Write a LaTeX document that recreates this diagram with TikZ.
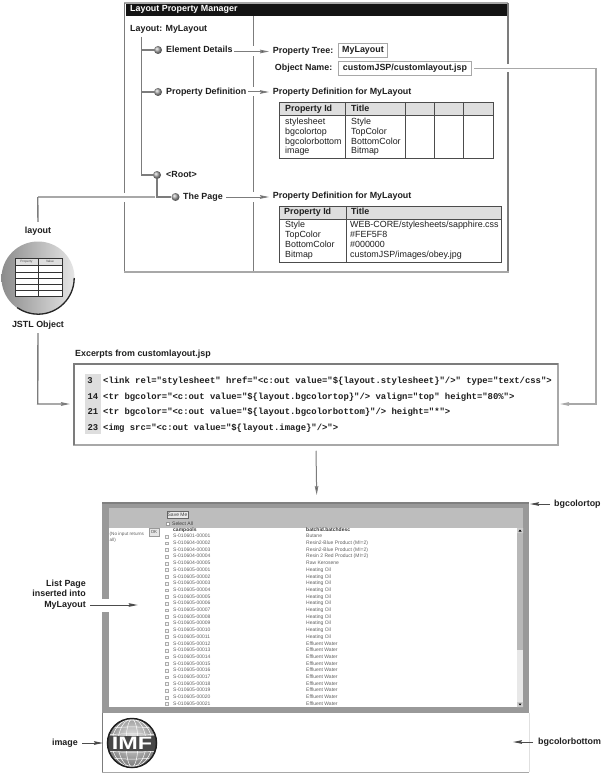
\documentclass[tikz,border=0pt]{standalone}
\usepackage{fontspec}
\setmainfont{Liberation Sans}
\newfontfamily\monof{Liberation Mono}
\usetikzlibrary{arrows.meta,calc}
\definecolor{ink}{HTML}{1E1E1E}
\definecolor{rule}{HTML}{7C7C7C}
\definecolor{softrule}{HTML}{A8A8A8}
\definecolor{shotdark}{HTML}{999999}
\definecolor{shotlight}{HTML}{BDBDBD}
\definecolor{cellhead}{HTML}{DEDEDE}
\tikzset{
  x=1pt,y=-1pt,
  lab/.style={inner sep=0pt,font=\fontsize{8.9}{10.5}\selectfont\bfseries,text=ink,text height=6.2pt,text depth=1.8pt},
  cell/.style={inner sep=0pt,font=\fontsize{8.9}{10}\selectfont,text=ink,anchor=west,text height=6.2pt,text depth=1.8pt},
  codeline/.style={inner sep=0pt,anchor=west,font=\monof\bfseries\fontsize{8.9}{10}\selectfont,text=ink,text height=6pt,text depth=1.5pt},
  boxed/.style={draw=softrule,line width=1.4pt,fill=white,inner sep=0pt,minimum height=14.5pt,font=\fontsize{8.9}{10}\selectfont\bfseries,text=ink},
  ballnode/.style={circle,inner sep=0pt,minimum size=8pt,ball color=black!35,shading=ball},
  treeline/.style={draw=rule,line width=1.5pt},
  link/.style={draw=rule,line width=1pt},
  softlink/.style={draw=softrule,line width=1.4pt},
  tip/.style={-{Stealth[length=9pt,width=3.6pt,inset=1pt,fill=ink]}},
  halo/.style={preaction={draw=white,line width=#1,arrows=-}},
  shot/.style={inner sep=0pt,anchor=west,font=\fontsize{5}{6}\selectfont,text=black!62,text height=3.6pt,text depth=1pt},
  shotb/.style={shot,font=\fontsize{5}{6}\selectfont\bfseries,text=black!80},
}
\begin{document}
\begin{tikzpicture}
\useasboundingbox (0,0) rectangle (600,773);
\fill[white] (0,0) rectangle (600,773);

% ---- Layout Property Manager window
\draw[softrule,line width=1.2pt] (124.3,3) -- (508,3);
\draw[rule,line width=1.3pt] (124.3,3) -- (124.3,272) (508,3) -- (508,272) (253.3,16) -- (253.3,271);
\draw[softrule,line width=1.5pt] (124,272) -- (508.5,272);
\fill[black!92] (126,4.5) rectangle (507.4,16);
\node[lab,anchor=west,text=white] (title) at (130,9.8) {Layout Property Manager};

\node[lab,anchor=west] (layoutname) at (130,29) {Layout: MyLayout};
\coordinate (treetop) at (141.7,37);
\node[ballnode] (b1) at (158,50) {};
\node[ballnode] (b2) at (158,92) {};
\node[ballnode] (b3) at (157,175) {};
\node[ballnode] (b4) at (175.5,197) {};
\draw[treeline] (treetop) |- (b3.west);
\draw[treeline] (treetop|-b1) -- (b1.west);
\draw[treeline] (treetop|-b2) -- (b2.west);
\draw[treeline] (b3.south) |- (b4.west);

\node[lab,anchor=west] (elem) at (166,50) {Element Details};
\node[lab,anchor=west] (propdef) at (166,92) {Property Definition};
\node[lab,anchor=west] (rootn) at (166,175) {<Root>};
\node[lab,anchor=west] (page) at (183,197) {The Page};

\node[lab,anchor=west] (ptree) at (272.7,51) {Property Tree:};
\node[lab,anchor=east] (oname) at (332.5,68) {Object Name:};
\node[boxed,minimum width=49pt] (treebox) at (363,50.5) {MyLayout};
\node[boxed,minimum width=133pt] (objbox) at (405,68.5) {customJSP/customlayout.jsp};
\node[lab,anchor=west] (def1) at (272.7,92) {Property Definition for MyLayout};
\node[lab,anchor=west] (def2) at (272.7,196) {Property Definition for MyLayout};

% ---- first property table
\fill[cellhead] (279,102) rectangle (493,115);
\draw[black!70,line width=.9pt] (279,102) rectangle (493,158) (279,115) -- (493,115)
  (345.7,102) -- (345.7,158) (405,102) -- (405,158) (434,102) -- (434,158) (463,102) -- (463,158);
\node[lab,anchor=west] (t1a) at (285,109) {Property Id};
\node[lab,anchor=west] (t1b) at (351,109) {Title};
\foreach \y/\a/\b in {122/stylesheet/Style,132/bgcolortop/TopColor,142/bgcolorbottom/BottomColor,151/image/Bitmap}{
  \node[cell] at (285,\y) {\a};
  \node[cell] at (351,\y) {\b};
}

% ---- second property table
\fill[cellhead] (279,206) rectangle (501.5,219);
\draw[black!70,line width=.9pt] (279,206) rectangle (501.5,262) (279,219) -- (501.5,219) (346,206) -- (346,262);
\node[lab,anchor=west] (t2a) at (284,212) {Property Id};
\node[lab,anchor=west] (t2b) at (351,212) {Title};
\foreach \y/\a/\b in {225/Style/WEB-CORE\slash stylesheets\slash sapphire.css,235/TopColor/\#FEF5F8,245/BottomColor/\#000000,255/Bitmap/customJSP\slash images\slash obey.jpg}{
  \node[cell] at (285,\y) {\a};
  \node[cell] at (350,\y) {\b};
}

% ---- JSTL object
\node[lab,anchor=center] (layoutlab) at (38,231) {layout};
\node[circle,inner sep=0pt,minimum size=73pt,left color=black!45,middle color=black!20,right color=black!10] (jstl) at (38,278) {};
\draw[black!85,line width=1.3pt] (74.2,278) ++(0,0) arc[start angle=0,end angle=125,radius=36.2];
\fill[white] (15,258) rectangle (62,296);
\fill[cellhead] (15,258) rectangle (62,265);
\draw[black!80,line width=.7pt] (15,258) rectangle (62,296) (38.3,258) -- (38.3,296)
  (15,265) -- (62,265) (15,272) -- (62,272) (15,278) -- (62,278) (15,284) -- (62,284) (15,290) -- (62,290);
\node[inner sep=0pt,font=\fontsize{3.2}{4}\selectfont,text=black!70] (mp) at (26.5,261.5) {Property};
\node[inner sep=0pt,font=\fontsize{3.2}{4}\selectfont,text=black!70] (mv) at (50,261.5) {Value};
\node[lab,anchor=center] (jstllab) at (38,325) {JSTL Object};

% ---- code excerpt
\node[lab,anchor=west] (excerpt) at (75,354) {Excerpts from customlayout.jsp};
\node[draw=softrule,line width=1.5pt,fill=white,inner sep=0pt,minimum width=484pt,minimum height=81pt] (code) at (316,404.5) {};
\draw[rule,line width=1.2pt] (74,445) -- (74,364) -- (558,364);
\fill[black!13] (85,374) rectangle (101,434);
\node[codeline,anchor=east] (n3) at (93,381) {3};
\node[codeline,anchor=east] (n14) at (98.5,397) {14};
\node[codeline,anchor=east] (n21) at (98.5,412) {21};
\node[codeline,anchor=east] (n23) at (98.5,428) {23};
\node[codeline] (c3) at (103,381) {<link rel="stylesheet" href="<c:out value="\$\{layout.stylesheet\}"/>" type="text/css">};
\node[codeline] (c14) at (103,397) {<tr bgcolor="<c:out value="\$\{layout.bgcolortop\}"/> valign="top" height="80\%">};
\node[codeline] (c21) at (103,412) {<tr bgcolor="<c:out value="\$\{layout.bgcolorbottom\}"/> height="*">};
\node[codeline] (c23) at (103,428) {<img src="<c:out value="\$\{layout.image\}"/>">};

% ---- screenshot of the list page
\fill[white] (102,713) rectangle (529,772);
\draw[rule,line width=.8pt] (102,713) -- (102,772);
\draw[softrule,line width=1pt] (102,772) -- (529,772);
\draw[black!12,line width=.7pt] (529,713) -- (529,772);
\node[inner sep=0pt,minimum width=427pt,minimum height=211pt,fill=shotdark] (shotframe) at (315.5,607.5) {};
\fill[black!50] (102,502) rectangle (529,503.5);
\fill[shotlight] (109,508) rectangle (523,528);
\fill[white] (109,528) rectangle (523,707);
\fill[black!9] (517,528) rectangle (523,707);
\fill[black!28] (517,532) rectangle (523,650);
\fill[black!20] (517,528) rectangle (523,533) (517,702) rectangle (523,707);
\fill[black] (520,529.5) -- (518.5,531.5) -- (521.5,531.5) -- cycle;
\fill[black] (520,705.5) -- (518.5,703.5) -- (521.5,703.5) -- cycle;
% controls
\node[draw=black!60,fill=black!8,line width=.5pt,inner sep=0pt,minimum width=21pt,minimum height=7.5pt,font=\fontsize{5}{5}\selectfont,text=black!75] (save) at (177.5,514.5) {Save Me};
\node[shot,text=black!75] (selall) at (172,524) {Select All};
\draw[black!40,fill=white,line width=.4pt] (166,522.5) rectangle (169,525.5);
\fill[white] (110,530) rectangle (149,536);
\node[draw=black!40,fill=black!10,line width=.4pt,inner sep=0pt,minimum width=10pt,minimum height=7.5pt,font=\fontsize{4.4}{5}\selectfont,text=black!70] (ok) at (154,532) {OK};
\node[shot,anchor=north west,align=left,text depth=0pt,font=\fontsize{4.6}{5.6}\selectfont] (noinput) at (109.5,537.5) {(No input returns\\all)};
\node[shotb] (h1) at (173,530.3) {campools};
\node[shotb] (h2) at (306,530.3) {batchid.batchdesc};
\foreach \i/\a/\b in {0/S-010601-00001/Butane,1/S-010604-00002/Resin2-Blue Product (MI=2),2/S-010604-00003/Resin2-Blue Product (MI=2),3/S-010604-00004/Resin 2 Red Product (MI=2),4/S-010604-00005/Raw Kerosene,
  5/S-010605-00001/Heating Oil,6/S-010605-00002/Heating Oil,7/S-010605-00003/Heating Oil,8/S-010605-00004/Heating Oil,9/S-010605-00005/Heating Oil,10/S-010605-00006/Heating Oil,11/S-010605-00007/Heating Oil,12/S-010605-00008/Heating Oil,13/S-010605-00009/Heating Oil,14/S-010605-00010/Heating Oil,15/S-010605-00011/Heating Oil,
  16/S-010605-00012/Effluent Water,17/S-010605-00013/Effluent Water,18/S-010605-00014/Effluent Water,19/S-010605-00015/Effluent Water,20/S-010605-00016/Effluent Water,21/S-010605-00017/Effluent Water,22/S-010605-00018/Effluent Water,23/S-010605-00019/Effluent Water,24/S-010605-00020/Effluent Water,25/S-010605-00021/Effluent Water}{
  \pgfmathsetmacro{\yy}{536.5+6.7*\i}
  \draw[black!32,fill=black!4,line width=.35pt] (165.6,\yy-1.4) rectangle (168.4,\yy+1.4);
  \node[shot] at (173,\yy) {\a};
  \node[shot] at (306,\yy) {\b};
}
% logo
\begin{scope}
  \clip (132,743) circle[radius=24.5];
  \shade[inner color=black!8,outer color=black!55] (132,738) circle[radius=30];
  \foreach \r in {6,14,20}{\draw[white,line width=.5pt] (132,743) ellipse[x radius=\r,y radius=24];}
  \foreach \yy in {-20,-14,-8,8,14,20}{\draw[white,line width=.5pt] (107,743+\yy) .. controls (120,743+\yy*1.2) and (144,743+\yy*1.2) .. (157,743+\yy);}
  \fill[black!72] (105,735.5) rectangle (159,750.5);
\end{scope}
\draw[black!88,line width=1.5pt] (132,743) circle[radius=24.5];
\node[inner sep=0pt,xscale=1.3,font=\fontsize{18}{18}\selectfont\bfseries,text=white] (logo) at (132,743) {IMF};

\node[lab,anchor=west] (lbtop) at (554,504) {bgcolortop};
\node[lab,anchor=west] (lbbot) at (538,742) {bgcolorbottom};
\node[lab,anchor=east] (lbimg) at (78,743) {image};
\node[lab,anchor=east,align=right] (lblist) at (86,605) {List Page\\inserted into\\MyLayout};

% ---- connectors
\coordinate (arrEl) at (269,51.5);
\coordinate (arrDf) at (269,92);
\coordinate (arrPg) at (269,197);
\coordinate (turnR) at (596,68.5);
\coordinate (codeR) at (560,404);
\coordinate (turnL) at (37.7,404);
\coordinate (codeL) at (70,404);
\coordinate (pageL) at (155,197);
\coordinate (pageC) at (37.7,197);
\draw[link,tip,halo=10pt] (234,51.5) -- (arrEl);
\draw[link,tip,halo=9pt] (248,92) -- (arrDf);
\draw[link,tip,halo=10pt] (226,197) -- (arrPg);
\draw[softlink,halo=8pt] (474,68.5) -- (turnR);
\draw[softlink,tip] (turnR) -- (596,404) -- (codeR);
\draw[softlink,halo=9pt] (pageL) -- (pageC);
\draw[softlink,draw=rule] (pageC) -- ($(layoutlab.north)+(0,-5)$);
\draw[softlink,draw=rule,tip] ($(jstllab.south)+(0,4)$) -- (turnL) -- (codeL);
\draw[link,tip] ($(code.south)+(0,5)$) -- (316.7,495);
\draw[link,draw=black!70,tip,halo=13pt] ($(lblist.east)+(4,0)$) -- (137.7,605);
\draw[link,draw=black!70,tip] ($(lbimg.east)+(4,0)$) -- (103,743);
\draw[link,draw=black!70,tip] (550,504) -- (530,504);
\draw[link,draw=black!70,tip] (533,742) -- (513,742);
\end{tikzpicture}
\end{document}
